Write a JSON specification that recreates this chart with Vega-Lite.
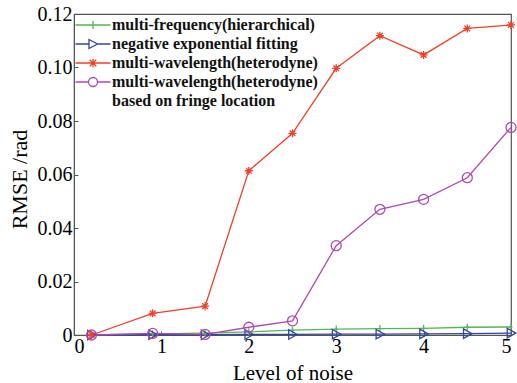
{
  "$schema": "https://vega.github.io/schema/vega-lite/v6.json",
  "width": 437,
  "height": 321,
  "autosize": "none",
  "padding": {"left": 74, "top": 14, "right": 6, "bottom": 48},
  "background": "white",
  "config": {
    "view": {"stroke": "#555555", "strokeWidth": 1.2},
    "font": "Liberation Serif",
    "axis": {"grid": false, "domainColor": "#555555", "tickColor": "#555555", "tickSize": -4, "labelFont": "Liberation Serif", "labelFontSize": 20, "labelColor": "#000000", "titleFont": "Liberation Serif", "titleFontSize": 21, "titleFontWeight": "normal", "titleColor": "#000000"}
  },
  "data": {"values": [
    {"x":0.2,"y":0,"s":"multi-frequency(hierarchical)"},
    {"x":0.9,"y":0.0004,"s":"multi-frequency(hierarchical)"},
    {"x":1.5,"y":0.0007,"s":"multi-frequency(hierarchical)"},
    {"x":2,"y":0.0012,"s":"multi-frequency(hierarchical)"},
    {"x":2.5,"y":0.0018,"s":"multi-frequency(hierarchical)"},
    {"x":3,"y":0.0022,"s":"multi-frequency(hierarchical)"},
    {"x":3.5,"y":0.0024,"s":"multi-frequency(hierarchical)"},
    {"x":4,"y":0.0025,"s":"multi-frequency(hierarchical)"},
    {"x":4.5,"y":0.0029,"s":"multi-frequency(hierarchical)"},
    {"x":5,"y":0.0030,"s":"multi-frequency(hierarchical)"},
    {"x":0.2,"y":0,"s":"negative exponential fitting"},
    {"x":0.9,"y":0.0001,"s":"negative exponential fitting"},
    {"x":1.5,"y":0.0001,"s":"negative exponential fitting"},
    {"x":2,"y":0.0002,"s":"negative exponential fitting"},
    {"x":2.5,"y":0.0002,"s":"negative exponential fitting"},
    {"x":3,"y":0.0003,"s":"negative exponential fitting"},
    {"x":3.5,"y":0.0003,"s":"negative exponential fitting"},
    {"x":4,"y":0.0004,"s":"negative exponential fitting"},
    {"x":4.5,"y":0.0005,"s":"negative exponential fitting"},
    {"x":5,"y":0.0007,"s":"negative exponential fitting"},
    {"x":0.2,"y":0,"s":"multi-wavelength(heterodyne)"},
    {"x":0.9,"y":0.0081,"s":"multi-wavelength(heterodyne)"},
    {"x":1.5,"y":0.0108,"s":"multi-wavelength(heterodyne)"},
    {"x":2,"y":0.0614,"s":"multi-wavelength(heterodyne)"},
    {"x":2.5,"y":0.0754,"s":"multi-wavelength(heterodyne)"},
    {"x":3,"y":0.0997,"s":"multi-wavelength(heterodyne)"},
    {"x":3.5,"y":0.1119,"s":"multi-wavelength(heterodyne)"},
    {"x":4,"y":0.1047,"s":"multi-wavelength(heterodyne)"},
    {"x":4.5,"y":0.1146,"s":"multi-wavelength(heterodyne)"},
    {"x":5,"y":0.1159,"s":"multi-wavelength(heterodyne)"},
    {"x":0.2,"y":0,"s":"multi-wavelength(heterodyne) "},
    {"x":0.9,"y":0.0006,"s":"multi-wavelength(heterodyne) "},
    {"x":1.5,"y":0.0002,"s":"multi-wavelength(heterodyne) "},
    {"x":2,"y":0.0029,"s":"multi-wavelength(heterodyne) "},
    {"x":2.5,"y":0.0053,"s":"multi-wavelength(heterodyne) "},
    {"x":3,"y":0.0334,"s":"multi-wavelength(heterodyne) "},
    {"x":3.5,"y":0.0470,"s":"multi-wavelength(heterodyne) "},
    {"x":4,"y":0.0507,"s":"multi-wavelength(heterodyne) "},
    {"x":4.5,"y":0.0588,"s":"multi-wavelength(heterodyne) "},
    {"x":5,"y":0.0776,"s":"multi-wavelength(heterodyne) "}
  ]},
  "encoding": {
    "x": {"field": "x", "type": "quantitative", "scale": {"domain": [0, 5], "nice": false}, "axis": {"values": [0,1,2,3,4,5], "title": "Level of noise", "titleBaseline": "alphabetic", "titleY": 44, "labelPadding": 5}},
    "y": {"field": "y", "type": "quantitative", "scale": {"domain": [0, 0.12], "nice": false}, "axis": {"values": [0,0.02,0.04,0.06,0.08,0.10,0.12], "labelExpr": "datum.value == 0 ? '0' : format(datum.value, '.2f')", "title": "RMSE /rad", "titleBaseline": "alphabetic", "titleX": -48, "titleY": 165, "titleFontSize": 22, "labelPadding": 6}},
    "color": {"field": "s", "type": "nominal", "scale": {"domain": ["multi-frequency(hierarchical)", "negative exponential fitting", "multi-wavelength(heterodyne)", "multi-wavelength(heterodyne) ", "based on fringe location"], "range": ["#52b852", "#3444a4", "#f0402a", "#b04aae", "#ffffff"]},
      "legend": {
         "title": null, "orient": "none", "legendX": 11, "legendY": 3, "padding": 0,
         "symbolSize": 100, "symbolStrokeWidth": 1.3, "labelFontSize": 16, "labelFont": "Liberation Serif", "labelFontWeight": "bold", "labelColor": "#111111", "labelOffset": 11, "labelLimit": 400, "rowPadding": 3,
         "encode": {"symbols": {"update": {"fill": {"value": "transparent"}, "shape": {"signal": "datum.value == 'multi-frequency(hierarchical)' ? 'M-3.5,0L3.5,0M0,-0.8L0,0.8' : datum.value == 'negative exponential fitting' ? 'M-3.5,0L-0.8,0M0.9,0L3.5,0M-0.8,-0.9L0.9,0L-0.8,0.9Z' : datum.value == 'multi-wavelength(heterodyne)' ? 'M-3.5,0L3.5,0M0,-0.85L0,0.85M-0.65,-0.65L0.65,0.65M-0.65,0.65L0.65,-0.65' : datum.value == 'based on fringe location' ? 'M0,0' : 'M-3.5,0L-0.9,0M0.9,0L3.5,0M0.9,0A0.9,0.9 0 1,1 -0.9,0A0.9,0.9 0 1,1 0.9,0'"}}}}
      }}
  },
  "layer": [
    {"mark": {"type": "line", "strokeWidth": 1.3}},
    {"transform": [{"filter": "datum.s == 'multi-frequency(hierarchical)'"}],
     "mark": {"type": "point", "filled": false, "strokeWidth": 1.3, "size": 90, "opacity": 1, "shape": "M0,-0.75L0,0.75M-0.3,0L0.3,0"}},
    {"transform": [{"filter": "datum.s == 'negative exponential fitting'"}],
     "mark": {"type": "point", "filled": false, "strokeWidth": 1.3, "size": 90, "opacity": 1, "shape": "M-0.8,-1L1,0L-0.8,1Z"}},
    {"transform": [{"filter": "datum.s == 'multi-wavelength(heterodyne)'"}],
     "mark": {"type": "point", "filled": false, "strokeWidth": 1.3, "size": 90, "opacity": 1, "shape": "M-0.85,0L0.85,0M0,-0.85L0,0.85M-0.6,-0.6L0.6,0.6M-0.6,0.6L0.6,-0.6"}},
    {"transform": [{"filter": "datum.s == 'multi-wavelength(heterodyne) '"}],
     "mark": {"type": "point", "filled": false, "strokeWidth": 1.3, "size": 100, "opacity": 1, "shape": "circle"}}
  ]
}
